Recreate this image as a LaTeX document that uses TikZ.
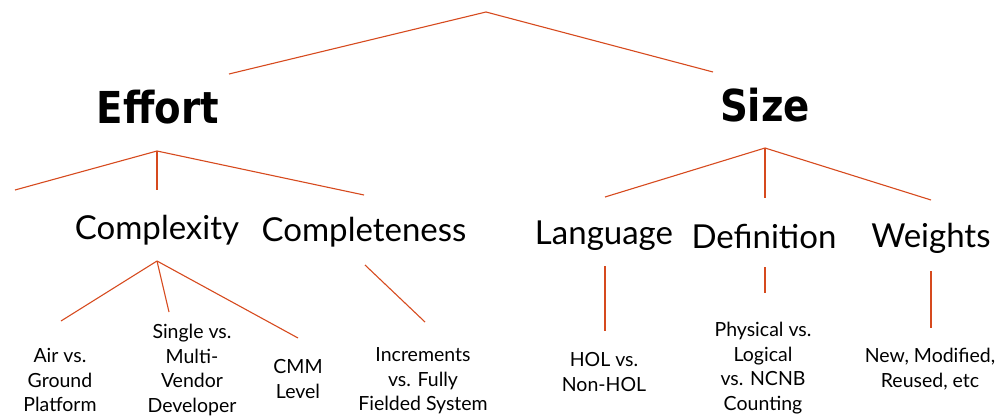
\documentclass[tikz,border=0pt]{standalone}
\usepackage{fontspec}
\setmainfont{Lato}
\newfontfamily\headfont[FakeStretch=0.88]{DejaVu Sans}
\usepackage{xcolor}
\usetikzlibrary{positioning}

\definecolor{branch}{RGB}{214,74,30}

\begin{document}
\begin{tikzpicture}[x=1pt, y=-1pt,
        edge/.style={draw=branch, line width=1.1pt},
        head/.style={font=\headfont\bfseries\fontsize{44}{48}\selectfont, inner sep=0pt},
        factor/.style={font=\fontsize{33}{38}\selectfont, inner sep=0pt},
        leaf/.style={font=\fontsize{19.5}{24.5}\selectfont, align=center, inner sep=0pt}]
                    \useasboundingbox (0,0) rectangle (995,417);

                    % top level
                    \coordinate (root) at (486, 12);
                    \node[head] (effort) at (158, 107) {Effort};
                    \node[head] (size) at (765, 105) {Size};
                    \coordinate (effortTop) at (229, 74);
                    \coordinate (sizeTop) at (713, 72);
                    \draw[edge] (root) -- (effortTop);
                    \draw[edge] (root) -- (sizeTop);

                    % effort branch
                    \coordinate (effortFork) at (157, 151);
                    \coordinate (effortLeft) at (15, 190);
                    \coordinate (complexityTop) at (157, 190);
                    \coordinate (completenessTop) at (364, 195);
                    \node[factor] (complexity) at (157, 230) {Complexity};
                    \node[factor] (completeness) at (364, 232) {Completeness};
                    \draw[edge] (effortFork) -- (effortLeft);
                    \draw[edge] (effortFork) -- (complexityTop);
                    \draw[edge] (effortFork) -- (completenessTop);

                    \coordinate (complexityFork) at (157, 261);
                    \coordinate (airTop) at (61, 321);
                    \coordinate (singleTop) at (169, 312);
                    \coordinate (cmmTop) at (298, 338);
                    \coordinate (completenessFork) at (365, 265);
                    \coordinate (incrementsTop) at (425, 322);
                    \node[leaf] (air) at (60, 380) {Air vs.\\Ground\\Platform};
                    \node[leaf] (single) at (192, 370) {Single vs.\\Multi-\\Vendor\\Developer};
                    \node[leaf] (cmm) at (298, 379) {CMM\\Level};
                    \node[leaf] (increments) at (423, 381) {Increments\\vs. Fully\\Fielded System};
                    \draw[edge] (complexityFork) -- (airTop);
                    \draw[edge] (complexityFork) -- (singleTop);
                    \draw[edge] (complexityFork) -- (cmmTop);
                    \draw[edge] (completenessFork) -- (incrementsTop);

                    % size branch
                    \coordinate (sizeFork) at (765, 148);
                    \coordinate (languageTop) at (605, 197);
                    \coordinate (definitionTop) at (765, 198);
                    \coordinate (weightsTop) at (931, 200);
                    \node[factor] (language) at (604, 236) {Language};
                    \node[factor] (definition) at (764, 236) {Definition};
                    \node[factor] (weights) at (931, 238) {Weights};
                    \draw[edge] (sizeFork) -- (languageTop);
                    \draw[edge] (sizeFork) -- (definitionTop);
                    \draw[edge] (sizeFork) -- (weightsTop);

                    \coordinate (languageFork) at (605, 266);
                    \coordinate (holTop) at (605, 331);
                    \coordinate (definitionFork) at (765, 267);
                    \coordinate (physicalTop) at (765, 293);
                    \coordinate (weightsFork) at (931, 271);
                    \coordinate (newTop) at (931, 328);
                    \node[leaf] (hol) at (604, 372) {HOL vs.\\Non-HOL};
                    \node[leaf] (physical) at (763, 368) {Physical vs.\\Logical\\vs. NCNB\\Counting};
                    \node[leaf] (new) at (930, 369) {New, Modified,\\Reused, etc};
                    \draw[edge] (languageFork) -- (holTop);
                    \draw[edge] (definitionFork) -- (physicalTop);
                    \draw[edge] (weightsFork) -- (newTop);
                \end{tikzpicture}
\end{document}
